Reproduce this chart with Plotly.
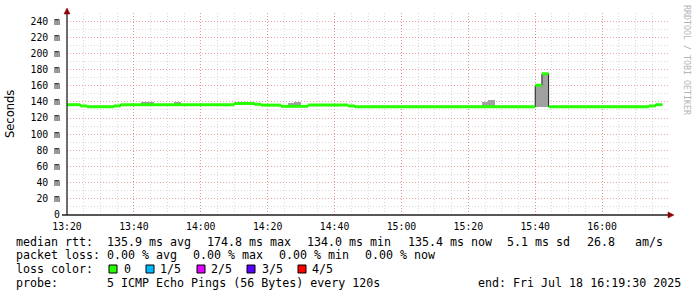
import plotly.graph_objects as go
from datetime import datetime

DAY = "2025-07-18 "

# median rtt (ms) per step segment: start times and value; last segment ends at seg_end_last
seg_start = ["13:20", "13:24", "13:26", "13:34", "13:36", "14:10", "14:16", "14:18",
             "14:24", "14:32", "14:44", "14:46", "15:40", "15:42", "15:44", "16:14", "16:16"]
seg_end_last = "16:18"
median_ms = [136.5, 135.0, 134.0, 135.0, 136.5, 138.0, 137.0, 136.0,
             134.5, 136.0, 135.0, 134.0, 160.5, 174.8, 134.0, 135.0, 136.5]

# smoke (spread of the pings) where visible
smoke_start = ["13:42", "13:44", "13:52", "14:26", "14:28", "15:24", "15:26", "15:40", "15:42"]
smoke_end = ["13:44", "13:46", "13:54", "14:28", "14:30", "15:26", "15:28", "15:42", "15:44"]
smoke_lo = [136.5, 136.5, 136.5, 134.5, 134.5, 134.0, 134.0, 133.5, 133.5]
smoke_hi = [140.0, 140.0, 140.0, 138.8, 140.0, 140.0, 142.5, 161.5, 176.0]

x_tickvals = ["13:20", "13:40", "14:00", "14:20", "14:40", "15:00", "15:20", "15:40", "16:00"]
y_tickvals = [0, 20, 40, 60, 80, 100, 120, 140, 160, 180, 200, 220, 240]
y_ticktext = ["0", "20 m", "40 m", "60 m", "80 m", "100 m", "120 m", "140 m",
              "160 m", "180 m", "200 m", "220 m", "240 m"]
y_minor = [10, 30, 50, 70, 90, 110, 130, 150, 170, 190, 210, 230]

loss_labels = ["0", "1/5", "2/5", "3/5", "4/5"]
loss_colors = ["#26ff00", "#00b8ff", "#dd00ff", "#5a00ff", "#ff0000"]

legend_rtt = ["median rtt:", "135.9 ms avg", "174.8 ms max", "134.0 ms min",
              "135.4 ms now", "5.1 ms sd", "26.8", "am/s"]
legend_loss = ["packet loss:", "0.00 % avg", "0.00 % max", "0.00 % min", "0.00 % now"]
legend_color_title = "loss color:"
legend_probe = ["probe:", "5 ICMP Echo Pings (56 Bytes) every 120s",
                "end: Fri Jul 18 16:19:30 2025"]

# ---------------------------------------------------------------------------
W, H = 697, 297
L, R, T, B = 67, 669, 13, 215
PW, PH = R - L, B - T


def px(x):
    return (x - L) / PW


def py(y):
    return (B - y) / PH


def t(s):
    return DAY + s + ":00"


def ms_between(a, b):
    fa = datetime.strptime(a, "%H:%M")
    fb = datetime.strptime(b, "%H:%M")
    return (fb - fa).total_seconds() * 1000


MONO = "DejaVu Sans Mono"
fig = go.Figure()

# smoke bars
fig.add_trace(go.Bar(
    x=[t(s) for s in smoke_start],
    y=[h - l for h, l in zip(smoke_hi, smoke_lo)],
    base=smoke_lo,
    width=[ms_between(a, b) for a, b in zip(smoke_start, smoke_end)],
    offset=0,
    marker=dict(color="#a0a0a0", line=dict(width=0)),
    hoverinfo="skip", showlegend=False,
))

# thin dark median step line
fig.add_trace(go.Scatter(
    x=[t(s) for s in seg_start] + [t(seg_end_last)],
    y=median_ms + [median_ms[-1]],
    mode="lines", line=dict(color="#202020", width=1, shape="hv"),
    hoverinfo="skip", showlegend=False,
))

# green median band (horizontal pieces only)
seg_ends = seg_start[1:] + [seg_end_last]
gx, gy = [], []
for s, e, v in zip(seg_start, seg_ends, median_ms):
    gx += [t(s), t(e), None]
    gy += [v, v, None]
fig.add_trace(go.Scatter(
    x=gx, y=gy, mode="lines", line=dict(color=loss_colors[0], width=3),
    connectgaps=False, hoverinfo="skip", showlegend=False,
))

grid_major = "rgba(225,90,90,0.55)"
grid_minor = "rgba(150,150,150,0.35)"
DASH = "1px,2px"

fig.update_layout(
    width=W, height=H, autosize=False,
    margin=dict(l=L, r=W - R, t=T, b=H - B, pad=0),
    paper_bgcolor="white", plot_bgcolor="white",
    barmode="overlay", bargap=0,
    showlegend=False,
    font=dict(family=MONO, color="black"),
    xaxis=dict(
        type="date",
        range=[t("13:20"), t("16:20")],
        tickmode="array", tickvals=[t(v) for v in x_tickvals], ticktext=x_tickvals,
        tickfont=dict(family=MONO, size=9.8, color="black"),
        ticks="", ticklabelstandoff=4,
        showgrid=True, gridcolor=grid_major, griddash=DASH, gridwidth=1,
        minor=dict(dtick=5 * 60 * 1000, tick0=t("13:20"), showgrid=True,
                   gridcolor=grid_minor, griddash=DASH, gridwidth=1, ticks=""),
        showline=False, zeroline=False, fixedrange=True,
    ),
    yaxis=dict(
        range=[0, 250],
        tickmode="array", tickvals=y_tickvals, ticktext=y_ticktext,
        tickfont=dict(family=MONO, size=9.8, color="black"),
        ticks="", ticklabelstandoff=6,
        showgrid=True, gridcolor=grid_major, griddash=DASH, gridwidth=1,
        minor=dict(tickvals=y_minor, showgrid=True, gridcolor=grid_minor,
                   griddash=DASH, gridwidth=1, ticks=""),
        showline=False, zeroline=False, fixedrange=True,
    ),
)

shapes = []
# axis lines
shapes.append(dict(type="line", xref="paper", yref="paper",
                   x0=px(62), x1=px(670), y0=0, y1=0,
                   line=dict(color="#202020", width=1.3)))
shapes.append(dict(type="line", xref="paper", yref="paper",
                   x0=0, x1=0, y0=0, y1=py(12),
                   line=dict(color="#202020", width=1.3)))
# arrow heads
shapes.append(dict(type="path", xref="paper", yref="paper",
                   path=f"M {px(64)} {py(14)} L {px(67)} {py(8)} L {px(70)} {py(14)} Z",
                   fillcolor="#8b0000", line=dict(color="#8b0000", width=0.5)))
shapes.append(dict(type="path", xref="paper", yref="paper",
                   path=f"M {px(668)} {py(212)} L {px(674)} {py(215)} L {px(668)} {py(218)} Z",
                   fillcolor="#8b0000", line=dict(color="#8b0000", width=0.5)))
# loss colour boxes
box_x = [109, 146, 197, 247, 298]
for bx, c in zip(box_x, loss_colors):
    shapes.append(dict(type="rect", xref="paper", yref="paper",
                       x0=px(bx), x1=px(bx + 8), y0=py(273), y1=py(265),
                       fillcolor=c, line=dict(color="black", width=1)))
fig.update_layout(shapes=shapes)

NB = "\u00a0"


def nb(s):
    return s.replace(" ", NB)


LEG = 11.65
ann = []


def text_at(txt, x, y):
    ann.append(dict(text=nb(txt), xref="paper", yref="paper", x=px(x), y=py(y),
                    xanchor="left", yanchor="middle", showarrow=False,
                    font=dict(family=MONO, size=LEG, color="black"),
                    borderpad=0, borderwidth=0))


rtt_x = [16, 107.3, 207.3, 306.7, 407.7, 506.7, 586.7, 635]
for s, x in zip(legend_rtt, rtt_x):
    text_at(s, x, 241.7)
loss_x = [16, 107.3, 193.3, 279.3, 365]
for s, x in zip(legend_loss, loss_x):
    text_at(s, x, 255.3)
text_at(legend_color_title, 16, 269.3)
label_x = [124, 160, 211, 262, 312]
for s, x in zip(loss_labels, label_x):
    text_at(s, x, 269.3)
probe_x = [16, 107.3, 478]
for s, x in zip(legend_probe, probe_x):
    text_at(s, x, 282.8)

ann.append(dict(text="Seconds", xref="paper", yref="paper", x=px(10), y=py(114),
                xanchor="center", yanchor="middle", textangle=-90, showarrow=False,
                font=dict(family="DejaVu Sans", size=11.5, color="black"),
                borderpad=0, borderwidth=0))
ann.append(dict(text=nb("RRDTOOL / TOBI OETIKER"), xref="paper", yref="paper",
                x=px(687), y=py(60), xanchor="center", yanchor="middle",
                textangle=90, showarrow=False,
                font=dict(family=MONO, size=8.3, color="#b4b4b4"),
                borderpad=0, borderwidth=0))
fig.update_layout(annotations=ann)

fig.write_html("out.html", config={"displayModeBar": False})
